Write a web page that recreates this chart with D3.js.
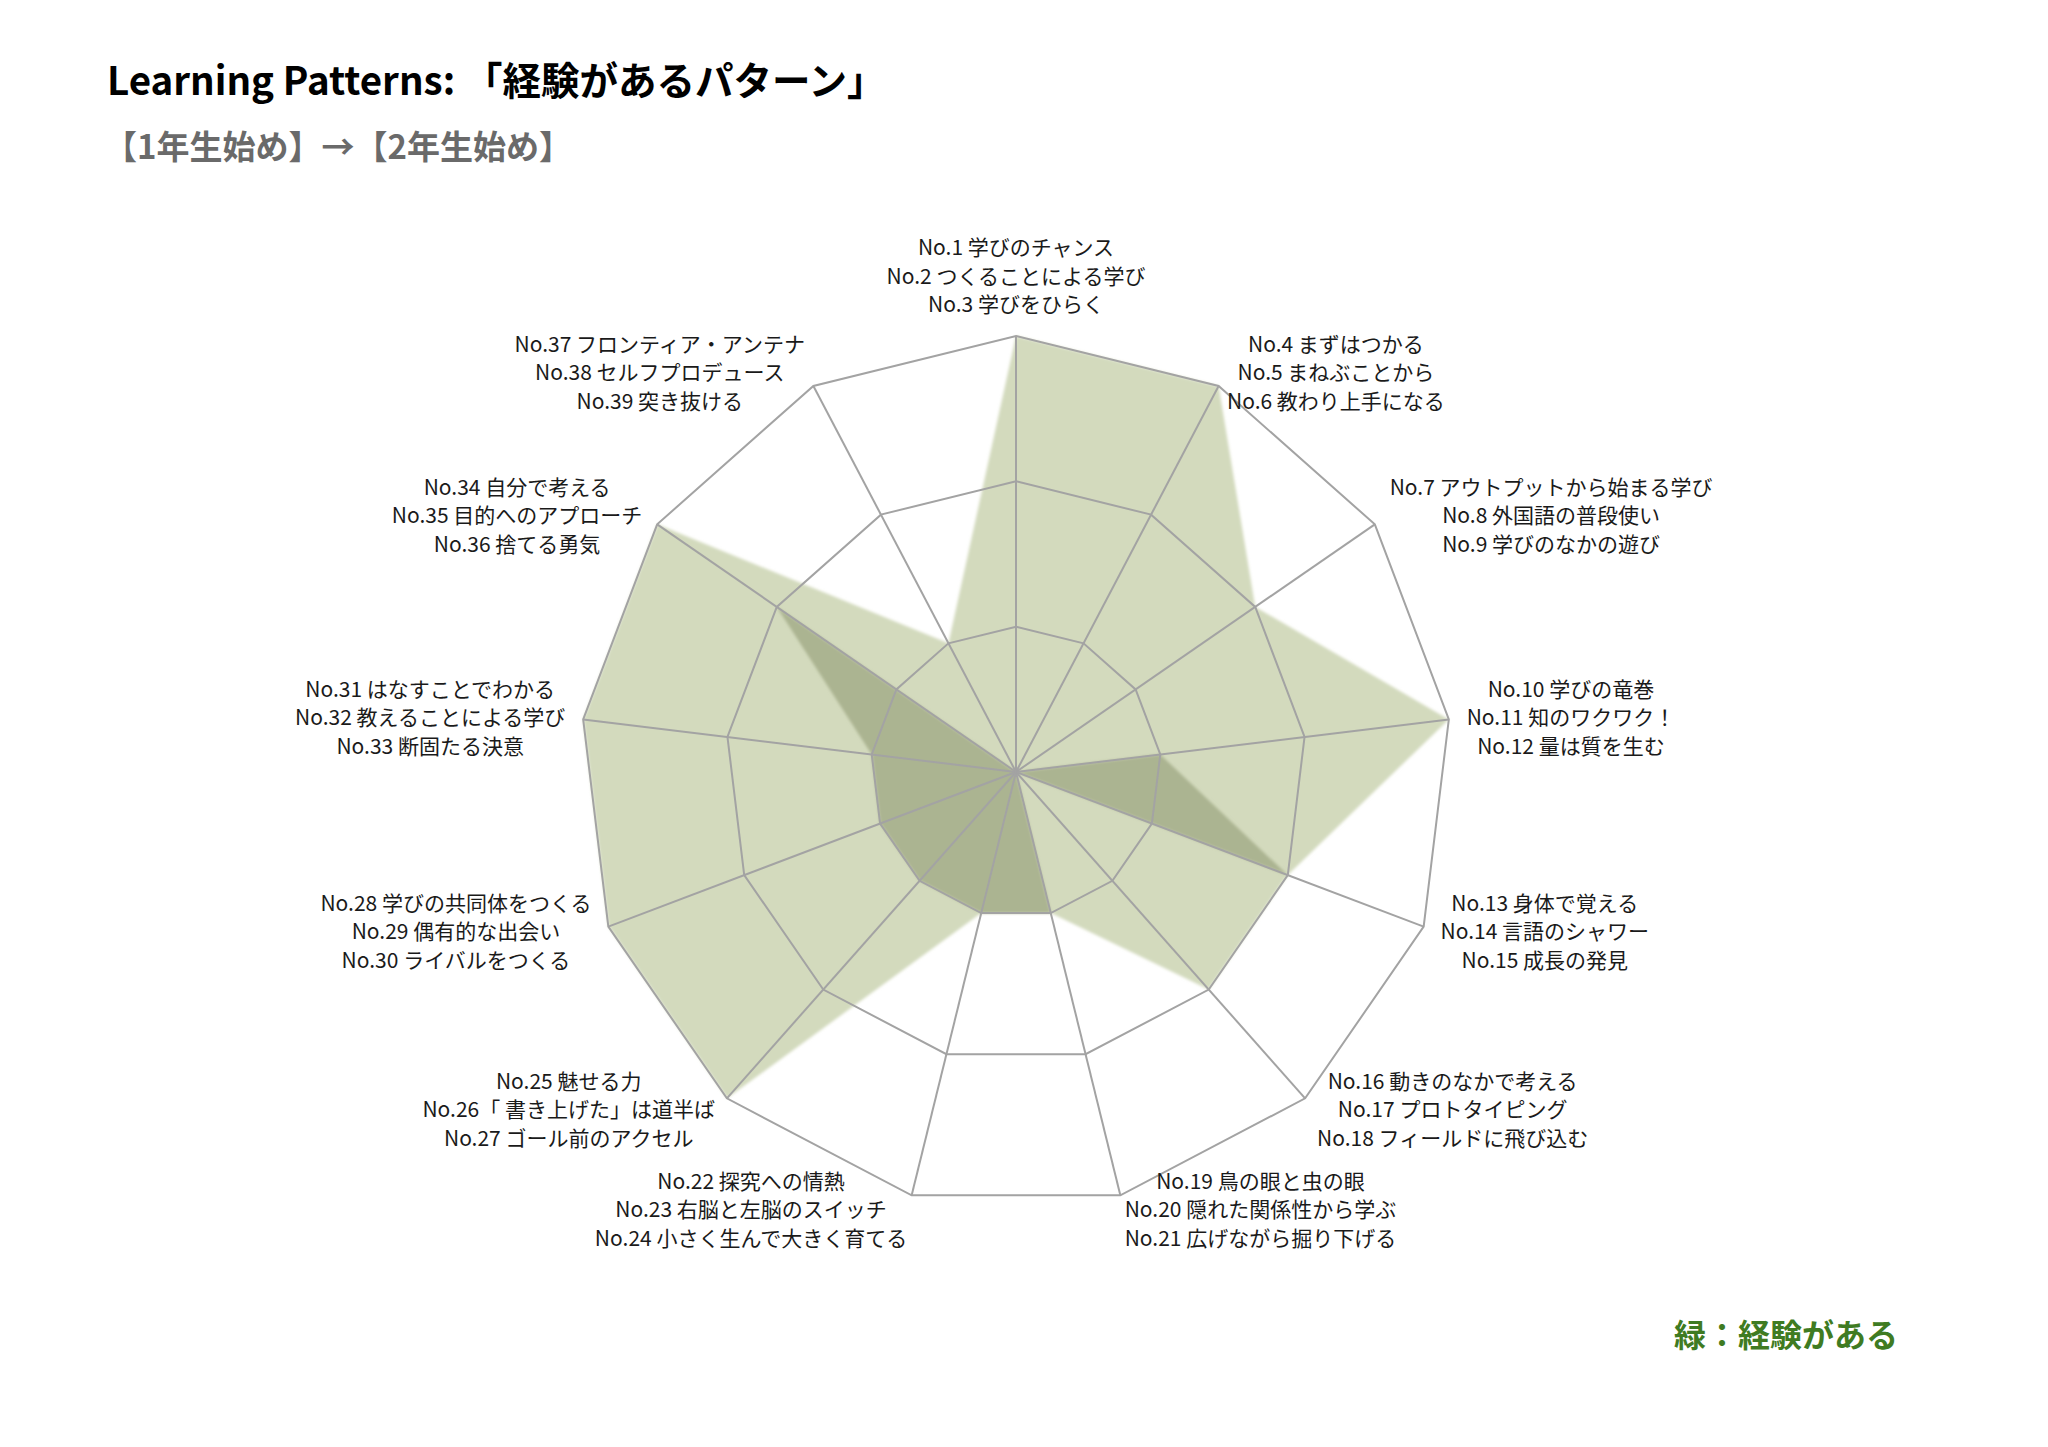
<!DOCTYPE html>
<html>
<head>
<meta charset="utf-8">
<script src="https://cdn.jsdelivr.net/npm/d3@7"></script>
<style>
  body { margin: 0; background: #fff; }
  svg { display: block; font-family: "Noto Sans CJK JP", "Noto Sans", sans-serif; }
</style>
</head>
<body>
<div id="chart"></div>
<script>
// pattern groups, three per axis
var patternGroups = [
  ["No.1 学びのチャンス", "No.2 つくることによる学び", "No.3 学びをひらく"],
  ["No.4 まずはつかる", "No.5 まねぶことから", "No.6 教わり上手になる"],
  ["No.7 アウトプットから始まる学び", "No.8 外国語の普段使い", "No.9 学びのなかの遊び"],
  ["No.10 学びの竜巻", "No.11 知のワクワク！", "No.12 量は質を生む"],
  ["No.13 身体で覚える", "No.14 言語のシャワー", "No.15 成長の発見"],
  ["No.16 動きのなかで考える", "No.17 プロトタイピング", "No.18 フィールドに飛び込む"],
  ["No.19 鳥の眼と虫の眼", "No.20 隠れた関係性から学ぶ", "No.21 広げながら掘り下げる"],
  ["No.22 探究への情熱", "No.23 右脳と左脳のスイッチ", "No.24 小さく生んで大きく育てる"],
  ["No.25 魅せる力", "No.26「 書き上げた」は道半ば", "No.27 ゴール前のアクセル"],
  ["No.28 学びの共同体をつくる", "No.29 偶有的な出会い", "No.30 ライバルをつくる"],
  ["No.31 はなすことでわかる", "No.32 教えることによる学び", "No.33 断固たる決意"],
  ["No.34 自分で考える", "No.35 目的へのアプローチ", "No.36 捨てる勇気"],
  ["No.37 フロンティア・アンテナ", "No.38 セルフプロデュース", "No.39 突き抜ける"]
];

// number of experienced patterns per group
var firstYear  = [0, 0, 0, 1, 2, 0, 1, 1, 1, 1, 1, 2, 0];
var secondYear = [3, 3, 2, 3, 2, 2, 1, 1, 3, 3, 3, 3, 1];
var ringLevels = [1, 2, 3];

var w = 2048;
var h = 1447;
var cx = 1016, cy = 772;
var outerRadius = 436;

var svg = d3.select("#chart")
  .append("svg")
  .attr("width", w)
  .attr("height", h);

svg.append("rect").attr("width", w).attr("height", h).attr("fill", "#fff");

// soft edges on the filled areas
var defs = svg.append("defs");
defs.append("filter").attr("id", "soft")
  .append("feGaussianBlur").attr("stdDeviation", 1.6);

var n = patternGroups.length;
var angle = d3.scaleLinear().domain([0, n]).range([0, 2 * Math.PI]);
var r = d3.scaleLinear().domain([0, 3]).range([0, outerRadius]);

var radar = d3.lineRadial()
  .angle(function (d, i) { return angle(i); })
  .radius(function (d) { return r(d); })
  .curve(d3.curveLinearClosed);

var g = svg.append("g").attr("transform", "translate(" + cx + "," + cy + ")");

// series areas: 2nd year underneath, 1st year darker on top
g.append("path")
  .datum(secondYear)
  .attr("d", radar)
  .attr("fill", "#d3dabd")
  .attr("filter", "url(#soft)");

g.append("path")
  .datum(firstYear)
  .attr("d", radar)
  .attr("fill", "#abb491")
  .attr("filter", "url(#soft)");

// grid rings
g.selectAll(".ring")
  .data(ringLevels)
  .enter()
  .append("path")
  .attr("class", "ring")
  .attr("d", function (lv) { return radar(d3.range(n).map(function () { return lv; })); })
  .attr("fill", "none")
  .attr("stroke", "#a3a3a3")
  .attr("stroke-width", 2);

// spokes
g.selectAll(".spoke")
  .data(d3.range(n))
  .enter()
  .append("line")
  .attr("class", "spoke")
  .attr("x1", 0).attr("y1", 0)
  .attr("x2", function (i) { return r(3) * Math.sin(angle(i)); })
  .attr("y2", function (i) { return -r(3) * Math.cos(angle(i)); })
  .attr("stroke", "#a3a3a3")
  .attr("stroke-width", 2);

// axis labels
var fs = 21, lh = 28.5;
var labels = g.selectAll(".lbl")
  .data(patternGroups)
  .enter()
  .append("text")
  .attr("class", "lbl")
  .attr("text-anchor", "middle")
  .attr("font-size", fs)
  .attr("fill", "#1a1a1a");

labels.each(function (lines, i) {
  var t = d3.select(this);
  lines.forEach(function (s, k) {
    t.append("tspan")
      .attr("x", 0)
      .attr("y", (k - 1) * lh + fs * 0.36)
      .text(s);
  });
  var bw = this.getBBox().width;
  var a = angle(i);
  var s = Math.sin(a), c = Math.cos(a);
  var x0 = r(3) * s, y0 = -r(3) * c;
  var lx, ly;
  if (Math.abs(s) < 0.01) {
    lx = x0;
    ly = y0 - 17 - lh * 1.5;
  } else {
    lx = x0 + Math.sign(s) * bw / 2 + s * 18;
    ly = y0 - c * 15;
  }
  t.attr("transform", "translate(" + lx + "," + ly + ")");
});

// title and subtitle
svg.append("text")
  .attr("x", 107)
  .attr("y", 95)
  .attr("font-size", 38.5)
  .attr("font-weight", "bold")
  .attr("fill", "#000")
  .text("Learning Patterns: 「経験があるパターン」");

svg.append("text")
  .attr("x", 104)
  .attr("y", 159)
  .attr("font-size", 33)
  .attr("font-weight", "bold")
  .attr("fill", "#6a6a6a")
  .text("【1年生始め】→【2年生始め】");

// legend note
svg.append("text")
  .attr("x", 1898)
  .attr("y", 1347)
  .attr("text-anchor", "end")
  .attr("font-size", 32)
  .attr("font-weight", "bold")
  .attr("fill", "#3f7b22")
  .text("緑：経験がある");
</script>
</body>
</html>
